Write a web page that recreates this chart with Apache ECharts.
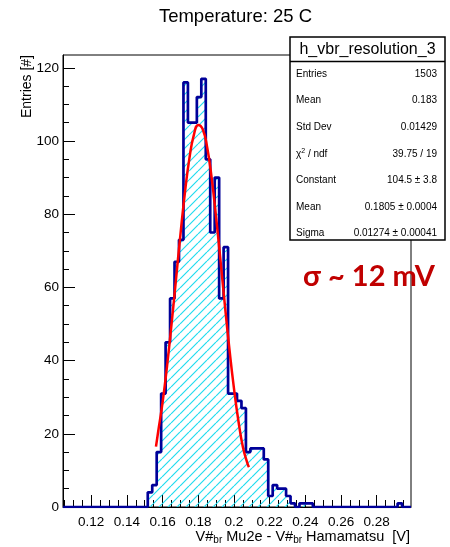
<!DOCTYPE html>
<html><head><meta charset="utf-8">
<script src="https://cdn.jsdelivr.net/npm/echarts@6/dist/echarts.min.js"></script>
<style>html,body{margin:0;padding:0;background:#fff}#c{width:450px;height:547px}</style>
</head><body><div id="c"></div>
<script>
// ---- data ----
const binStart = 0.1042;
const binWidth = 0.0025;
const counts = [
  0,0,0,0,0,0,0,0,0,0, 0,0,0,0,0,0,0,0,0,
  4,6,15,31,45,57,67,73,116,105,105,112,117,95,75,90,57,71,31,31,29,27,15,16,16,16,13,3,6,5,5,3,1,0,1,1,
  1,0,0,0,0,0,0,0,0,0, 0,0,0,0,0,0,0,0,0,0,
  1,0,0
];
const fitX = [0.1563,0.1575,0.16,0.1625,0.165,0.1675,0.17,0.1725,0.175,0.1775,0.18,0.1825,0.185,0.1875,0.19,0.1925,0.195,0.1975,0.2,0.2025,0.205,0.2075,0.2084];
const fitY = [16.5,20.5,28.6,38.5,49.9,62.1,74.4,85.8,95.2,101.6,104.4,103.2,98.2,89.9,79.1,67.1,54.7,42.9,32.4,23.5,16.4,12.0,10.9];
const xTickLabels = [0.12,0.14,0.16,0.18,0.2,0.22,0.24,0.26,0.28];
const xMinorStep = 0.005;
const yTickLabels = [0,20,40,60,80,100,120];
const statsNames = ['Entries','Mean','Std Dev','{a|χ}{s|2}{a| / ndf}','Constant','Mean','Sigma'];
const statsValues = ['1503','0.183','0.01429','39.75 / 19','104.5 ± 3.8','0.1805 ± 0.0004','0.01274 ± 0.00041'];
const titleText = 'Temperature: 25 C';
const statsTitle = 'h_vbr_resolution_3';
const noteText = 'σ ~ 12 mV';

// ---- build ----
const xMin = binStart, xMax = binStart + counts.length * binWidth;
const histData = counts.map((v, k) => [binStart + k * binWidth, v]);
histData.push([xMax, counts[counts.length - 1]]);
const fitData = fitX.map((x, i) => [x, fitY[i]]);
const xMinor = [];
for (let t = Math.ceil(xMin / xMinorStep - 1e-9); t * xMinorStep <= xMax + 1e-9; t++) xMinor.push(+(t * xMinorStep).toFixed(4));

function hatch() {
  const s = 9, c = document.createElement('canvas');
  c.width = s; c.height = s;
  const g = c.getContext('2d');
  g.strokeStyle = '#22dcef'; g.lineWidth = 1.2;
  g.beginPath();
  for (const o of [-s, 0, s]) { g.moveTo(o, s); g.lineTo(o + s, 0); }
  g.stroke();
  return c;
}

const FONT = '"Liberation Sans", Arial, Helvetica, sans-serif';
const chart = echarts.init(document.getElementById('c'), null, {renderer: 'canvas', width: 450, height: 547});

const statsGraphics = [
  {type: 'rect', z: 100, shape: {x: 290, y: 37, width: 155, height: 203}, style: {fill: '#fff', stroke: '#000', lineWidth: 1.5}},
  {type: 'line', z: 101, shape: {x1: 290, y1: 61.5, x2: 445, y2: 61.5}, style: {stroke: '#000', lineWidth: 1.5}},
  {type: 'text', z: 101, x: 367.5, y: 49.5, style: {text: statsTitle, fontFamily: FONT, fontSize: 16, fill: '#000', align: 'center', verticalAlign: 'middle'}}
];
statsNames.forEach((n, i) => {
  const y = 74 + i * 26.6;
  statsGraphics.push({type: 'text', z: 101, x: 296, y: y, style: {text: n, fontFamily: FONT, fontSize: 10, fill: '#000', align: 'left', verticalAlign: 'middle',
    rich: {a: {fontFamily: FONT, fontSize: 10}, s: {fontFamily: FONT, fontSize: 7, verticalAlign: 'top', padding: [0, 0, 6, 0]}}}});
  statsGraphics.push({type: 'text', z: 101, x: 437, y: y, style: {text: statsValues[i], fontFamily: FONT, fontSize: 10, fill: '#000', align: 'right', verticalAlign: 'middle'}});
});

const option = {
  backgroundColor: '#fff',
  animation: false,
  grid: {left: 63, right: 39, top: 55, bottom: 40, show: true, borderColor: '#000', borderWidth: 1, backgroundColor: 'transparent'},
  xAxis: [
    {type: 'value', min: xMin, max: xMax, position: 'bottom',
      axisLine: {show: true, onZero: false, lineStyle: {color: '#000', width: 1}},
      axisTick: {show: true, inside: true, length: 12, customValues: xTickLabels, lineStyle: {color: '#000', width: 1}},
      axisLabel: {customValues: xTickLabels, formatter: v => String(v), fontFamily: FONT, fontSize: 13.5, color: '#000', margin: 8},
      splitLine: {show: false}},
    {type: 'value', min: xMin, max: xMax, position: 'bottom',
      axisLine: {show: false, onZero: false},
      axisTick: {show: true, inside: true, length: 7, customValues: xMinor, lineStyle: {color: '#000', width: 1}},
      axisLabel: {show: false}, splitLine: {show: false}}
  ],
  yAxis: {type: 'value', min: 0, max: 123.5, interval: 20,
    axisLine: {show: true, onZero: false, lineStyle: {color: '#000', width: 1}},
    axisTick: {show: true, inside: true, length: 12, customValues: yTickLabels, lineStyle: {color: '#000'}},
    minorTick: {show: true, splitNumber: 4, length: 6, lineStyle: {color: '#000'}},
    axisLabel: {customValues: yTickLabels, fontFamily: FONT, fontSize: 13.5, color: '#000', margin: 4},
    splitLine: {show: false}},
  series: [
    {type: 'line', xAxisIndex: 0, data: histData, step: 'end', showSymbol: false, symbol: 'none',
      lineStyle: {color: '#000099', width: 2.7}, itemStyle: {color: '#000099'},
      areaStyle: {color: {image: hatch(), repeat: 'repeat'}, opacity: 1}, z: 3},
    {type: 'line', xAxisIndex: 0, data: fitData, smooth: true, showSymbol: false, symbol: 'none',
      lineStyle: {color: '#ff0000', width: 2.5}, itemStyle: {color: '#ff0000'}, z: 4}
  ],
  graphic: [
    {type: 'text', x: 235.5, y: 17, style: {text: titleText, fontFamily: FONT, fontSize: 18.5, fill: '#000', align: 'center', verticalAlign: 'middle'}},
    {type: 'text', x: 27, y: 55, rotation: Math.PI / 2, style: {text: 'Entries [#]', fontFamily: FONT, fontSize: 14, fill: '#000', align: 'right', verticalAlign: 'middle'}},
    {type: 'text', x: 410, y: 537, style: {text: '{n|V#}{b|br}{n| Mu2e - V#}{b|br}{n| Hamamatsu  [V]}', fontFamily: FONT, fontSize: 14.5, fill: '#000', align: 'right', verticalAlign: 'middle',
      rich: {n: {fontFamily: FONT, fontSize: 14.5, fill: '#000'}, b: {fontFamily: FONT, fontSize: 10, fill: '#000', verticalAlign: 'bottom', padding: [7, 0, 0, 0]}}}},
    ...statsGraphics,
    {type: 'text', z: 102, x: 369, y: 277, style: {text: noteText, fontFamily: 'Lato, "Open Sans", sans-serif', fontWeight: 'bold', fontSize: 29, fill: '#c00000', align: 'center', verticalAlign: 'middle'}}
  ]
};
chart.setOption(option);
</script>
</body></html>
